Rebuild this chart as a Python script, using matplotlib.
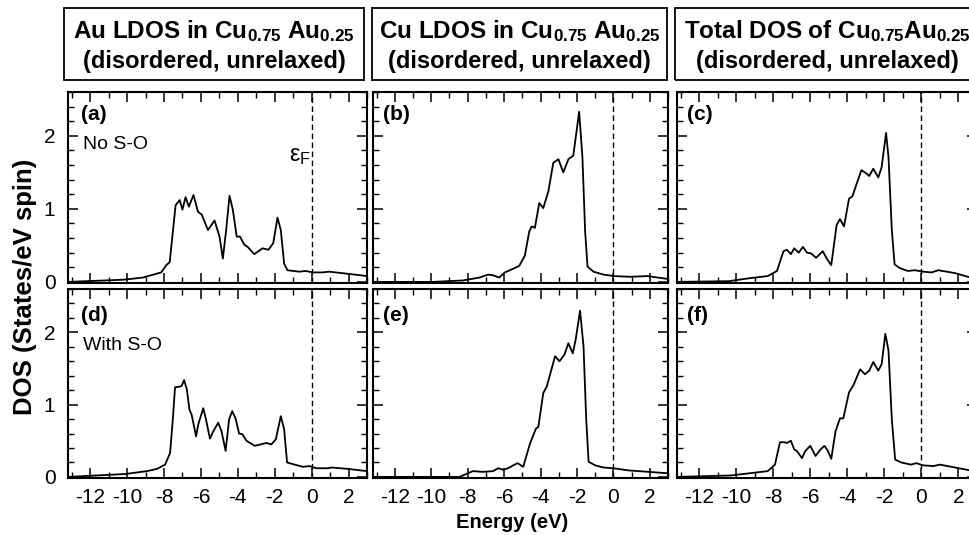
import matplotlib
matplotlib.use("Agg")
import matplotlib.pyplot as plt
from matplotlib.patches import Rectangle
from matplotlib.ticker import MultipleLocator

plt.rcParams['font.family'] = ['Liberation Sans', 'DejaVu Sans']
plt.rcParams['axes.unicode_minus'] = False
plt.rcParams['mathtext.fontset'] = 'custom'
plt.rcParams['mathtext.rm'] = 'Liberation Sans:bold'
plt.rcParams['mathtext.bf'] = 'Liberation Sans:bold'
plt.rcParams['mathtext.it'] = 'Liberation Sans'
plt.rcParams['mathtext.sf'] = 'Liberation Sans'

# ---- data (energy in eV, DOS in states/eV spin) ----
E_FERMI = 0.0

# (a) Au LDOS, no spin-orbit
e_a = [-13.2, -10.2, -9.13, -8.15, -7.87, -7.69, -7.51, -7.37, -7.15, -7.0, -6.83, -6.65,
       -6.40, -6.16, -5.95, -5.62, -5.26, -4.99, -4.81, -4.63, -4.45, -4.27, -4.06, -3.88,
       -3.65, -3.47, -3.11, -2.66, -2.34, -2.08, -1.85, -1.67, -1.49, -1.31, -0.68, -0.32,
       0.05, 0.59, 0.95, 2.0, 3.0]
dos_a = [0.0, 0.03, 0.06, 0.13, 0.23, 0.27, 0.71, 1.05, 1.12, 0.99, 1.16, 1.03,
         1.19, 0.96, 0.92, 0.71, 0.84, 0.62, 0.32, 0.71, 1.18, 0.99, 0.62, 0.62,
         0.51, 0.48, 0.38, 0.46, 0.44, 0.53, 0.88, 0.71, 0.25, 0.16, 0.14, 0.15,
         0.13, 0.13, 0.14, 0.11, 0.08]

# (d) Au LDOS, with spin-orbit
e_d = [-13.2, -10.1, -8.93, -8.39, -7.94, -7.67, -7.52, -7.40, -7.13, -7.04, -6.91, -6.76,
       -6.62, -6.50, -6.26, -6.14, -5.87, -5.72, -5.51, -5.33, -5.06, -4.88, -4.66, -4.47,
       -4.30, -4.11, -3.93, -3.75, -3.53, -3.08, -2.45, -2.18, -1.94, -1.67, -1.49, -1.33,
       -0.92, -0.47, -0.11, 0.25, 0.88, 1.1, 2.0, 3.0]
dos_d = [0.0, 0.04, 0.08, 0.11, 0.17, 0.33, 0.80, 1.24, 1.25, 1.26, 1.34, 1.21,
         0.93, 0.86, 0.56, 0.73, 0.95, 0.79, 0.53, 0.63, 0.75, 0.63, 0.36, 0.80,
         0.91, 0.80, 0.60, 0.59, 0.50, 0.43, 0.47, 0.45, 0.52, 0.84, 0.66, 0.20,
         0.17, 0.14, 0.15, 0.12, 0.12, 0.13, 0.11, 0.08]

# (b) Cu LDOS, no spin-orbit
e_b = [-13.2, -9.92, -8.26, -7.34, -6.88, -6.60, -6.27, -5.96, -5.50, -5.17, -4.86, -4.62,
       -4.49, -4.31, -4.07, -3.85, -3.57, -3.30, -3.02, -2.75, -2.47, -2.20, -1.88, -1.70,
       -1.55, -1.42, -1.09, -0.54, 0.02, 0.94, 1.86, 3.0]
dos_b = [0.0, 0.0, 0.02, 0.06, 0.10, 0.09, 0.06, 0.13, 0.18, 0.22, 0.36, 0.69,
         0.76, 0.74, 1.08, 1.01, 1.24, 1.63, 1.68, 1.50, 1.68, 1.73, 2.33, 1.71,
         0.69, 0.21, 0.14, 0.10, 0.08, 0.07, 0.08, 0.04]

# (e) Cu LDOS, with spin-orbit
e_e = [-13.2, -8.45, -7.99, -7.71, -7.16, -6.61, -6.33, -6.05, -5.78, -5.50, -5.26, -4.95,
       -4.58, -4.25, -4.12, -3.85, -3.66, -3.20, -2.96, -2.69, -2.47, -2.23, -2.07, -1.83,
       -1.64, -1.49, -1.36, -1.00, -0.54, 0.0, 0.83, 1.94, 3.0]
dos_e = [0.0, 0.0, 0.05, 0.08, 0.07, 0.08, 0.12, 0.10, 0.12, 0.16, 0.19, 0.14,
         0.46, 0.67, 0.69, 1.16, 1.25, 1.67, 1.60, 1.69, 1.85, 1.71, 1.90, 2.30,
         1.81, 0.79, 0.21, 0.16, 0.13, 0.12, 0.09, 0.07, 0.05]

# (c) total DOS, no spin-orbit
e_c = [-13.2, -10.4, -9.3, -8.3, -7.8, -7.45, -7.27, -7.05, -6.87, -6.63, -6.40, -6.18,
       -5.96, -5.69, -5.33, -5.09, -4.87, -4.58, -4.40, -4.18, -3.91, -3.73, -3.49, -3.24,
       -3.00, -2.82, -2.60, -2.33, -2.15, -1.91, -1.78, -1.60, -1.45, -1.18, -0.73, -0.36,
       0.09, 0.55, 0.91, 1.82, 2.64, 3.0]
dos_c = [0.0, 0.01, 0.05, 0.08, 0.15, 0.42, 0.44, 0.38, 0.46, 0.40, 0.48, 0.40,
         0.39, 0.33, 0.42, 0.31, 0.23, 0.78, 0.86, 0.76, 1.14, 1.17, 1.35, 1.53,
         1.49, 1.45, 1.55, 1.43, 1.57, 2.04, 1.71, 0.71, 0.24, 0.19, 0.15, 0.16,
         0.14, 0.13, 0.16, 0.12, 0.06, 0.05]

# (f) total DOS, with spin-orbit
e_f = [-13.2, -10.3, -9.3, -8.3, -7.91, -7.64, -7.42, -7.27, -7.05, -6.87, -6.73, -6.45,
       -6.27, -6.00, -5.72, -5.45, -5.24, -5.05, -4.87, -4.64, -4.40, -4.22, -3.91, -3.67,
       -3.31, -3.05, -2.82, -2.60, -2.33, -2.15, -1.95, -1.78, -1.60, -1.42, -1.09, -0.58,
       -0.27, 0.09, 0.64, 1.00, 1.82, 2.64, 3.0]
dos_f = [0.0, 0.02, 0.05, 0.08, 0.17, 0.48, 0.48, 0.47, 0.50, 0.38, 0.36, 0.26,
         0.36, 0.43, 0.29, 0.38, 0.43, 0.36, 0.25, 0.63, 0.81, 0.81, 1.17, 1.27,
         1.49, 1.42, 1.47, 1.59, 1.47, 1.56, 1.98, 1.75, 0.80, 0.24, 0.20, 0.17,
         0.19, 0.16, 0.15, 0.17, 0.13, 0.09, 0.08]

column_titles = [
    r"Au LDOS in Cu$_{\mathrm{0.75}}$ Au$_{\mathrm{0.25}}$",
    r"Cu LDOS in Cu$_{\mathrm{0.75}}$ Au$_{\mathrm{0.25}}$",
    r"Total DOS of Cu$_{\mathrm{0.75}}$Au$_{\mathrm{0.25}}$",
]
subtitle = "(disordered, unrelaxed)"

panels = [
    [(e_a, dos_a, "(a)", "No S-O"), (e_b, dos_b, "(b)", None), (e_c, dos_c, "(c)", None)],
    [(e_d, dos_d, "(d)", "With S-O"), (e_e, dos_e, "(e)", None), (e_f, dos_f, "(f)", None)],
]

W, H = 970, 535
fig = plt.figure(figsize=(W / 100, H / 100), dpi=100)

# pixel layout of the columns / rows (left, right) and (top, bottom)
col_px = [(68, 367), (373, 668), (677, 977)]
row_px = [(92, 283), (289, 478)]
box_px = [(64, 364), (372, 667), (675, 980)]


def fig_rect(x0, x1, y0, y1):
    return [x0 / W, 1 - y1 / H, (x1 - x0) / W, (y1 - y0) / H]


for r, row in enumerate(panels):
    for c, (en, dos, tag, note) in enumerate(row):
        ax = fig.add_axes(fig_rect(*col_px[c], *row_px[r]))
        ax.plot(en, dos, color='black', lw=1.3)
        ax.axvline(E_FERMI, color='black', lw=1.0, ls=(0, (4, 2.5)))
        ax.set_xlim(-13.2, 3.0)
        ax.set_ylim(-0.015, 2.6)
        ax.xaxis.set_major_locator(MultipleLocator(2))
        ax.xaxis.set_minor_locator(MultipleLocator(1))
        ax.yaxis.set_major_locator(MultipleLocator(1))
        ax.yaxis.set_minor_locator(MultipleLocator(0.2))
        ax.tick_params(which='both', direction='in', top=True, right=True,
                       labelsize=15)
        ax.tick_params(axis='x', pad=7)
        ax.tick_params(axis='y', pad=9)
        ax.tick_params(which='major', length=7, width=1.1)
        ax.tick_params(which='minor', length=4, width=1.0)
        for s in ax.spines.values():
            s.set_linewidth(1.5)
        if r == 0:
            ax.tick_params(labelbottom=False)
        if c > 0:
            ax.tick_params(labelleft=False)
        ax.text(0.035 if c else 0.045, 0.93 if r == 0 else 0.91, tag,
                transform=ax.transAxes, fontsize=15, fontweight='bold',
                ha='left', va='top')
        if note:
            ax.text(0.05, 0.77 if r == 0 else 0.745, note, transform=ax.transAxes,
                    fontsize=14, ha='left', va='top')
        if r == 0 and c == 0:
            ax.text(E_FERMI - 0.02, 1.72, r"ε$_{\mathsf{F}}$", fontsize=17,
                    ha='right', va='center')

# column title boxes
for (x0, x1), title in zip(box_px, column_titles):
    fig.add_artist(Rectangle((x0 / W, 1 - 80 / H), (x1 - x0) / W, 72 / H,
                             transform=fig.transFigure, fill=False,
                             edgecolor='black', lw=1.3))
    xc = (x0 + x1) / 2 / W
    fig.text(xc, 1 - 38.5 / H, title, fontsize=17.5, fontweight='bold',
             ha='center', va='baseline')
    fig.text(xc, 1 - 68 / H, subtitle, fontsize=17, fontweight='bold',
             ha='center', va='baseline')

fig.text(512 / W, 1 - 522 / H, "Energy (eV)", fontsize=14.5, fontweight='bold',
         ha='center', va='center')
fig.text(25 / W, 1 - 287 / H, "DOS (States/eV spin)", fontsize=18.5, fontweight='bold',
         ha='center', va='center', rotation=90)

fig.savefig("out.png", dpi=100)
